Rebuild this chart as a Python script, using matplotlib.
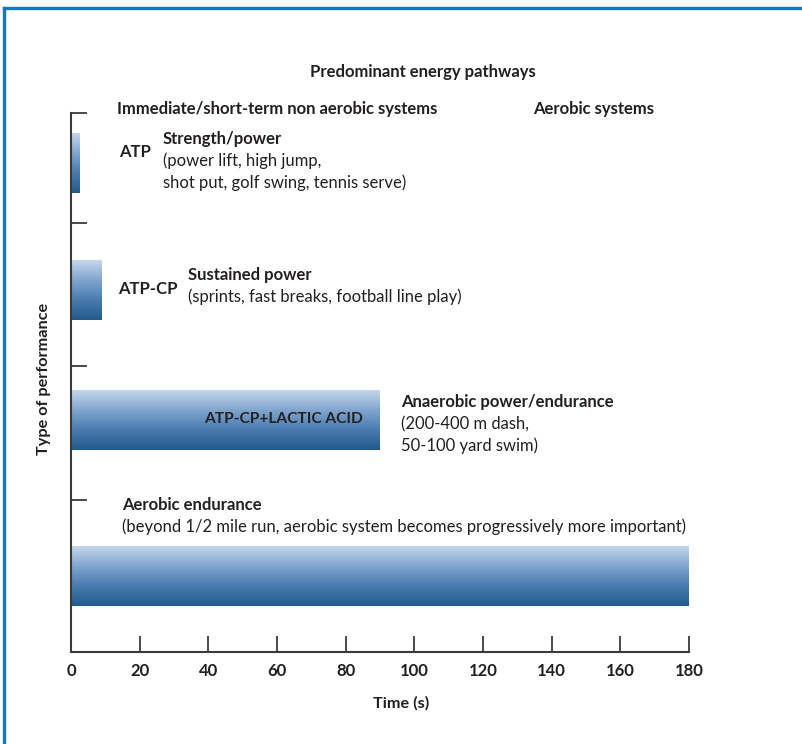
import matplotlib
matplotlib.use("Agg")
import matplotlib.pyplot as plt
import numpy as np
from matplotlib.colors import LinearSegmentedColormap
from matplotlib.lines import Line2D

plt.rcParams['font.family'] = ['Lato', 'DejaVu Sans']

# Energy systems and how long each predominates (seconds)
systems = ["ATP", "ATP-CP", "ATP-CP+LACTIC ACID", ""]
durations = [2.5, 9, 90, 180]
headings = ["Strength/power", "Sustained power",
            "Anaerobic power/endurance", "Aerobic endurance"]
examples = [["(power lift, high jump,", "shot put, golf swing, tennis serve)"],
            ["(sprints, fast breaks, football line play)"],
            ["(200-400 m dash,", "50-100 yard swim)"],
            ["(beyond 1/2 mile run, aerobic system becomes progressively more important)"]]
x_ticks = [0, 20, 40, 60, 80, 100, 120, 140, 160, 180]

title = "Predominant energy pathways"
group_left = "Immediate/short-term non aerobic systems"
group_right = "Aerobic systems"
x_label = "Time (s)"
y_label = "Type of performance"

W, H = 803, 744
fig = plt.figure(figsize=(W / 100, H / 100), dpi=100)
fig.patch.set_facecolor("white")

def fx(px):
    return px / W

def fy(py):
    return 1 - py / H

# plot area in pixel layout
ax_l, ax_r, ax_t, ax_b = 71, 689, 113, 652
ax = fig.add_axes([fx(ax_l), fy(ax_b), fx(ax_r - ax_l), (ax_b - ax_t) / H])
ax.set_xlim(0, 180)
ax.set_ylim(ax_b, ax_t)  # vertical layout in pixel rows, top to bottom

# row layout (centre row and height of each bar)
centres = [163, 290, 420, 576]
bar_h = 61
sep_ticks = [113, 223, 366, 500]

cmap = LinearSegmentedColormap.from_list(
    "bar", ["#c9d9ef", "#82a7d0", "#4a7baf", "#225a8c"])
grad = np.linspace(0, 1, 256).reshape(-1, 1)

for c, d in zip(centres, durations):
    top = c - bar_h / 2
    bars = ax.barh(c, d, height=bar_h, left=0, color="none", edgecolor="none")
    im = ax.imshow(grad, cmap=cmap, aspect="auto",
                   extent=(0, d, top + bar_h, top), origin="upper",
                   interpolation="bilinear", zorder=2)
    im.set_clip_path(bars[0])
ax.set_xlim(0, 180)
ax.set_ylim(ax_b, ax_t)

for s in ["top", "right"]:
    ax.spines[s].set_visible(False)
for s in ["left", "bottom"]:
    ax.spines[s].set_color("#3a3a3a")
    ax.spines[s].set_linewidth(1.5)
    ax.spines[s].set_zorder(5)

ink = "#231f20"
ax.set_xticks(x_ticks)
ax.set_xticklabels([str(t) for t in x_ticks], fontsize=12, fontweight="bold",
                   color=ink)
ax.set_yticks(sep_ticks)
ax.set_yticklabels([])
ax.tick_params(axis="both", direction="in", length=11.5, width=1.3,
               color="#3a3a3a")
ax.tick_params(axis="x", pad=8)

fig.text(fx(401), fy(703), x_label, fontsize=11.7, fontweight="bold",
         ha="center", va="center", color=ink)
fig.text(fx(44), fy(379), y_label, rotation=90, fontsize=11.7,
         fontweight="bold", ha="center", va="center", color=ink)

# headings
fig.text(fx(423), fy(72), title, fontsize=12, fontweight="bold",
         ha="center", va="center", color=ink)
fig.text(fx(117), fy(109), group_left, fontsize=12, fontweight="bold",
         ha="left", va="center", color=ink)
fig.text(fx(533), fy(109), group_right, fontsize=12, fontweight="bold",
         ha="left", va="center", color=ink)

# system names beside the short bars
fig.text(fx(119), fy(152), systems[0], fontsize=12, fontweight="bold",
         color=ink, ha="left", va="center")
fig.text(fx(118), fy(289), systems[1], fontsize=12, fontweight="bold",
         color=ink, ha="left", va="center")
ax.text(durations[2] - 5, centres[2] - 1, systems[2], fontsize=11.2,
        fontweight="bold", ha="right", va="center", zorder=4, color="#222222")

# performance descriptions
desc_pos = [(163, 139), (188, 275), (401, 402), (122, 505)]
line_gap = 22
for (x, y), h, lines in zip(desc_pos, headings, examples):
    fig.text(fx(x), fy(y), h, fontsize=12, fontweight="bold", color=ink,
             ha="left", va="center")
    for i, ln in enumerate(lines, start=1):
        fig.text(fx(x), fy(y + i * line_gap), ln, fontsize=12, color=ink,
                 ha="left", va="center")

# blue frame along the top and left edges
fig.add_artist(Line2D([fx(4), 1], [fy(8), fy(8)], color="#1677ba", lw=2.4))
fig.add_artist(Line2D([fx(4), fx(4)], [fy(8), 0], color="#1677ba", lw=2.4))

fig.savefig("out.png", dpi=100)
